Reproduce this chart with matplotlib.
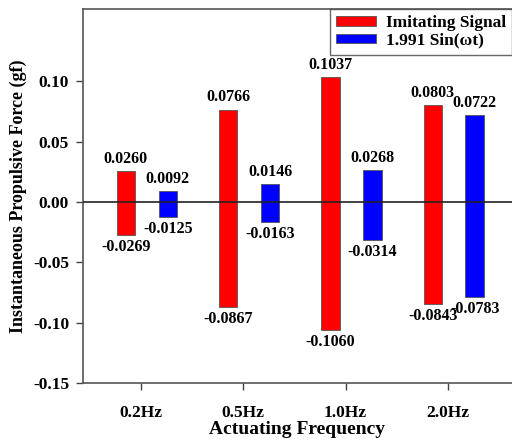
import matplotlib.pyplot as plt
import numpy as np

plt.rcParams['font.family'] = ['Liberation Serif', 'DejaVu Serif']
plt.rcParams['font.weight'] = 'bold'

freqs = ['0.2Hz', '0.5Hz', '1.0Hz', '2.0Hz']
imit_max = [0.0260, 0.0766, 0.1037, 0.0803]
imit_min = [-0.0269, -0.0867, -0.1060, -0.0843]
sin_max = [0.0092, 0.0146, 0.0268, 0.0722]
sin_min = [-0.0125, -0.0163, -0.0314, -0.0783]

fig = plt.figure(figsize=(5.12, 4.44), dpi=100)
ax = fig.add_axes([0.162, 0.137, 0.838, 0.843])

x = np.arange(len(freqs))
w = 0.18
off_r, off_b = -0.147, 0.262

ax.bar(x + off_r, np.array(imit_max) - np.array(imit_min), w, bottom=imit_min,
       color='#ff0000', edgecolor='#555555', linewidth=0.6, label='Imitating Signal', zorder=2)
ax.bar(x + off_b, np.array(sin_max) - np.array(sin_min), w, bottom=sin_min,
       color='#0000ff', edgecolor='#555555', linewidth=0.6, label='1.991 Sin(ωt)', zorder=2)

ax.axhline(0, color='#222222', lw=1.2, zorder=3)

for xs, hi, lo in [(x + off_r, imit_max, imit_min), (x + off_b, sin_max, sin_min)]:
    for xi, h, l in zip(xs, hi, lo):
        ax.annotate(f'{h:.4f}', (xi, h), xytext=(0, 3), textcoords='offset points',
                    ha='center', va='bottom', fontsize=11.5, fontweight='bold')
        ax.annotate(f'{l:.4f}', (xi, l), xytext=(0, -3), textcoords='offset points',
                    ha='center', va='top', fontsize=11.5, fontweight='bold')

ax.set_xlim(-0.567, 3.627)
ax.set_ylim(-0.15, 0.16)
ax.set_yticks([-0.15, -0.10, -0.05, 0.0, 0.05, 0.10])
ax.set_yticklabels(['-0.15', '-0.10', '-0.05', '0.00', '0.05', '0.10'])
ax.set_xticks(x)
ax.set_xticklabels(freqs)
ax.tick_params(axis='both', direction='out', length=5, width=1, color='#444444',
               labelsize=12.5)
ax.tick_params(axis='y', pad=5)
ax.tick_params(axis='x', pad=11)
for lab in ax.get_xticklabels() + ax.get_yticklabels():
    lab.set_fontweight('bold')

ax.spines['right'].set_visible(False)
for s in ['left', 'top', 'bottom']:
    ax.spines[s].set_color('#555555')
    ax.spines[s].set_linewidth(1.2)

ax.set_ylabel('Instantaneous Propulsive Force (gf)', fontsize=13, fontweight='bold', labelpad=4)
ax.set_xlabel('Actuating Frequency', fontsize=14, fontweight='bold', labelpad=0)

leg = ax.legend(loc='upper right', borderaxespad=0, fontsize=12.5, frameon=True,
                fancybox=False, handlelength=2.3, handleheight=0.5, handletextpad=0.55,
                borderpad=0.35, labelspacing=0.1)
leg.get_frame().set_edgecolor('#444444')
leg.get_frame().set_linewidth(1)
for t in leg.get_texts():
    t.set_fontweight('bold')

fig.savefig('out.png', dpi=100)
